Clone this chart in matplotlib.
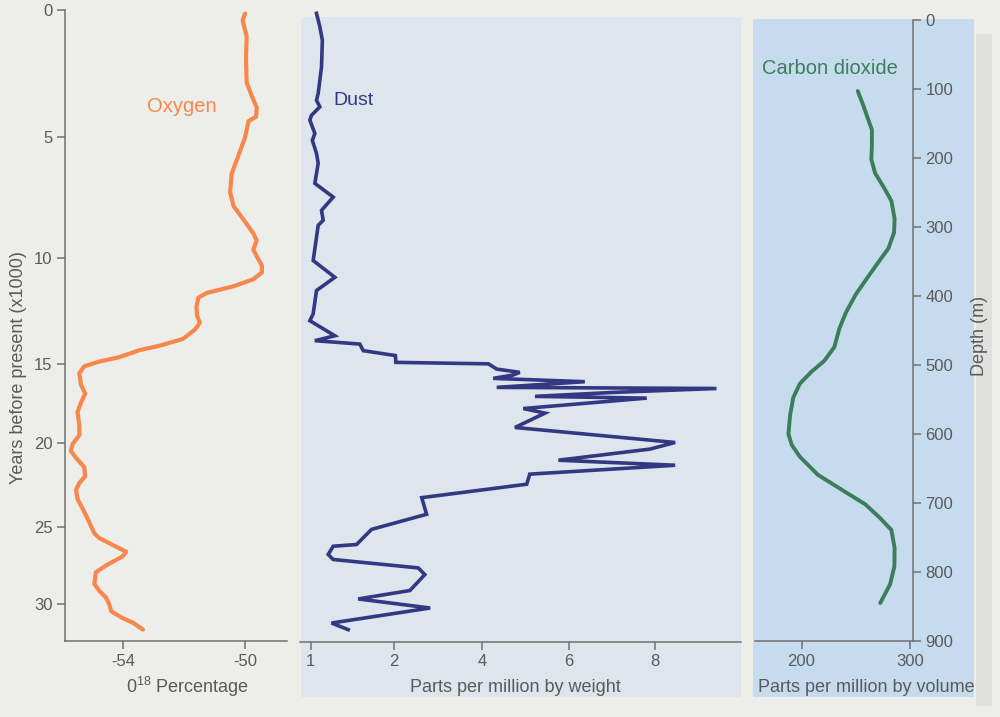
import numpy as np
import matplotlib.pyplot as plt
from matplotlib.patches import Rectangle

plt.rcParams['font.family'] = ['Liberation Sans', 'DejaVu Sans']
plt.rcParams['mathtext.fontset'] = 'custom'
plt.rcParams['mathtext.rm'] = 'Liberation Sans'

# oxygen-18 vs years before present (x1000)
oxy_years = [0.14, 0.41, 1.04, 1.94, 2.84, 3.38, 3.83, 4.19, 4.37, 5.0, 5.76, 6.52,
             7.28, 7.85, 8.42, 8.99, 9.28, 9.66, 9.94, 10.37, 10.69, 11.01, 11.34,
             11.66, 11.88, 12.31, 12.74, 13.06, 13.38, 13.82, 14.14, 14.35, 14.68,
             14.89, 15.15, 15.58, 16.31, 16.89, 17.47, 18.05, 18.92, 19.51, 20.08,
             20.49, 20.90, 21.45, 22.0, 22.40, 22.81, 23.36, 23.91, 24.73, 25.44,
             25.74, 26.18, 26.62, 26.91, 27.5, 27.94, 28.68, 29.12, 29.56, 30.0,
             30.44, 30.88, 31.17, 31.61]
oxy_vals = [-50.0, -50.08, -49.95, -49.97, -49.95, -49.78, -49.62, -49.64, -49.89,
            -50.0, -50.22, -50.44, -50.49, -50.38, -50.05, -49.73, -49.62, -49.73,
            -49.62, -49.45, -49.45, -49.73, -50.38, -51.26, -51.53, -51.59, -51.57,
            -51.48, -51.64, -52.03, -52.79, -53.45, -54.11, -54.77, -55.26, -55.42,
            -55.37, -55.23, -55.37, -55.48, -55.42, -55.42, -55.64, -55.70, -55.53,
            -55.26, -55.23, -55.42, -55.53, -55.48, -55.32, -55.10, -54.93, -54.77,
            -54.33, -53.89, -54.0, -54.55, -54.88, -54.93, -54.77, -54.55, -54.44,
            -54.38, -54.0, -53.67, -53.34]

# dust, parts per million by weight
dust_years = [0.13, 0.66, 1.18, 2.23, 3.27, 3.54, 3.80, 4.13, 4.32, 4.84, 5.12, 5.66,
              6.07, 6.90, 7.47, 8.02, 8.43, 8.64, 10.11, 10.90, 11.52, 12.62, 12.94,
              13.65, 13.88, 14.04, 14.35, 14.58, 14.90, 14.97, 15.29, 15.50, 15.67,
              15.88, 16.09, 16.45, 16.52, 16.77, 17.02, 17.13, 17.79, 18.08, 18.99,
              19.94, 20.34, 21.00, 21.30, 21.83, 22.43, 23.23, 24.22, 25.13, 26.10,
              26.21, 26.74, 27.06, 27.60, 28.03, 29.05, 29.59, 30.17, 31.13, 31.55]
dust_ppm = [1.07, 1.11, 1.14, 1.13, 1.09, 1.07, 1.11, 1.01, 0.99, 1.05, 1.02, 1.07,
            1.09, 1.05, 1.27, 1.13, 1.15, 1.09, 1.03, 1.29, 1.07, 1.03, 0.99,
            1.29, 1.05, 1.59, 1.63, 2.03, 2.04, 4.15, 4.34, 4.87, 4.71,
            4.26, 6.37, 4.34, 9.43, 7.02, 5.22, 7.81, 4.95, 5.45, 4.76,
            8.47, 7.88, 5.76, 8.47, 5.10, 5.03, 2.63, 2.74, 1.73, 1.55,
            1.27, 1.21, 1.27, 2.55, 2.70, 2.36, 1.57, 2.82, 1.25, 1.45]

# carbon dioxide vs core depth
co2_depth = [103, 126, 146, 159, 182, 202, 222, 242, 262, 288, 308, 331, 351, 374,
             398, 424, 447, 474, 494, 510, 527, 547, 573, 600, 616, 633, 659, 683,
             702, 722, 739, 765, 792, 818, 845]
co2_ppm = [252, 257.6, 262, 265, 265, 264.5, 268, 275.8, 283, 286, 285.5, 280.3, 271,
           260.6, 250, 241, 235, 230.3, 221, 209, 198.5, 192.4, 189.4, 187.9, 191,
           198.5, 215, 239.4, 259, 272.7, 283, 286, 285.8, 281.8, 272.7]

year_ticks = [0, 5, 10, 15, 20, 25, 30]
o18_ticks = [-54, -50]
dust_ticks = [1, 2, 4, 6, 8]
co2_ticks = [200, 300]
depth_ticks = [0, 100, 200, 300, 400, 500, 600, 700, 800, 900]

# years are stretched so they line up with the depth scale
year_knots = [0, 5, 10, 15, 20, 25, 30, 32.34]
year_pos = [0, 0.2017, 0.3927, 0.5609, 0.6858, 0.8186, 0.9420, 1.0]
# on the dust axis 1->2 takes as much room as 2->4
dust_knots = [1, 2, 4, 6, 8]
dust_pos = [0, 0.969, 1.99, 3.0, 4.0]

orange = '#f7874d'
navy = '#333882'
green = '#3d7c5c'
grey = '#5a5a5a'
spine_c = '#707070'


def piecewise(x, xp, fp):
    x = np.asarray(x, dtype=float)
    y = np.interp(x, xp, fp)
    lo = fp[0] + (x - xp[0]) * (fp[1] - fp[0]) / (xp[1] - xp[0])
    hi = fp[-1] + (x - xp[-1]) * (fp[-1] - fp[-2]) / (xp[-1] - xp[-2])
    return np.where(x < xp[0], lo, np.where(x > xp[-1], hi, y))


year_fw = lambda v: piecewise(v, year_knots, year_pos)
year_inv = lambda p: piecewise(p, year_pos, year_knots)
dust_fw = lambda v: piecewise(v, dust_knots, dust_pos)
dust_inv = lambda p: piecewise(p, dust_pos, dust_knots)


def box(l, t, r, b):
    return [l / 1000, 1 - b / 717, (r - l) / 1000, (b - t) / 717]


def style(ax):
    ax.set_facecolor('none')
    for s in ax.spines.values():
        s.set_color(spine_c)
        s.set_linewidth(1.1)
    ax.tick_params(direction='out', length=6, width=1.1, color=spine_c,
                   labelsize=12, labelcolor=grey, pad=3)


fig = plt.figure(figsize=(10, 7.17), dpi=100, facecolor='#edede9')

# shaded panels behind dust and CO2
fig.add_artist(Rectangle((0.301, 1 - 697 / 717), 0.44, 680 / 717, transform=fig.transFigure,
                         facecolor='#dee5ed', edgecolor='none', zorder=-2))
fig.add_artist(Rectangle((0.753, 1 - 697 / 717), 0.221, 678 / 717, transform=fig.transFigure,
                         facecolor='#c6dcee', edgecolor='none', zorder=-2))
fig.add_artist(Rectangle((0.976, 1 - 706 / 717), 0.016, 672 / 717, transform=fig.transFigure,
                         facecolor='#e0e0df', edgecolor='none', zorder=-3))

# Oxygen
ax1 = fig.add_axes(box(65, 10, 287, 641))
style(ax1)
ax1.set_yscale('function', functions=(year_fw, year_inv))
ax1.plot(oxy_vals, oxy_years, color=orange, lw=3, solid_capstyle='round',
         solid_joinstyle='round')
ax1.set_ylim(32.34, 0)
ax1.set_xlim(-55.89, -48.63)
ax1.set_yticks(year_ticks)
ax1.set_yticklabels([str(t) for t in year_ticks])
ax1.set_xticks(o18_ticks)
ax1.set_xticklabels([str(t) for t in o18_ticks])
ax1.spines['top'].set_visible(False)
ax1.spines['right'].set_visible(False)
ax1.text(-52.07, 3.8, 'Oxygen', color=orange, fontsize=14.5, ha='center', va='center')

# Dust
ax2 = fig.add_axes(box(300, 10, 741, 642))
style(ax2)
ax2.set_yscale('function', functions=(year_fw, year_inv))
ax2.set_xscale('function', functions=(dust_fw, dust_inv))
ax2.plot(dust_ppm, dust_years, color=navy, lw=2.6, solid_joinstyle='miter')
ax2.set_ylim(32.34, 0)
ax2.set_xlim(0.872, 10.0)
ax2.set_yticks([])
ax2.set_xticks(dust_ticks)
ax2.set_xticklabels([str(t) for t in dust_ticks])
ax2.xaxis.set_minor_locator(plt.NullLocator())
for s in ['top', 'right', 'left']:
    ax2.spines[s].set_visible(False)
ax2.text(1.27, 3.54, 'Dust', color=navy, fontsize=14, ha='left', va='center')

# Carbon dioxide
ax3 = fig.add_axes(box(755, 20, 913, 641))
style(ax3)
ax3.plot(co2_ppm, co2_depth, color=green, lw=2.8, solid_capstyle='round',
         solid_joinstyle='round')
ax3.set_ylim(900, 0)
ax3.set_xlim(157, 303)
ax3.set_xticks(co2_ticks)
ax3.set_xticklabels([str(t) for t in co2_ticks])
ax3.yaxis.tick_right()
ax3.set_yticks(depth_ticks)
ax3.set_yticklabels([str(t) for t in depth_ticks])
ax3.spines['top'].set_visible(False)
ax3.spines['left'].set_visible(False)
ax3.text(163.3, 70, 'Carbon dioxide', color=green, fontsize=14.5, ha='left', va='center')

# axis titles
fig.text(19 / 1000, 1 - 368 / 717, 'Years before present (x1000)', rotation=90,
         ha='center', va='center', fontsize=13, color=grey)
fig.text(187 / 1000, 1 - 687 / 717, r'0$^{\mathrm{18}}$ Percentage',
         ha='center', va='center', fontsize=13, color=grey)
fig.text(515 / 1000, 1 - 687 / 717, 'Parts per million by weight',
         ha='center', va='center', fontsize=13, color=grey)
fig.text(866 / 1000, 1 - 687 / 717, 'Parts per million by volume',
         ha='center', va='center', fontsize=13, color=grey)
fig.text(979 / 1000, 1 - 336 / 717, 'Depth (m)', rotation=90,
         ha='center', va='center', fontsize=13, color=grey)

fig.savefig('out.png', dpi=100, facecolor=fig.get_facecolor())
